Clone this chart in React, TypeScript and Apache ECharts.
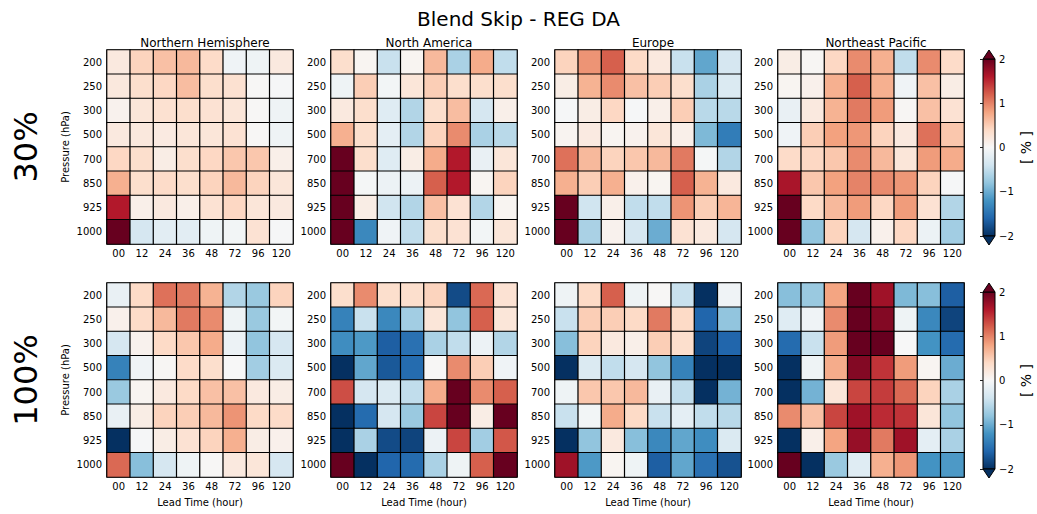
import React, { useEffect, useRef } from "react";
import * as echarts from "echarts";

const leadTimes = ["00", "12", "24", "36", "48", "72", "96", "120"];
const pressures = ["200", "250", "300", "500", "700", "850", "925", "1000"];
const regions = ["Northern Hemisphere", "North America", "Europe", "Northeast Pacific"];
const rowLabels = ["30%", "100%"];

// rows: pressure 200 -> 1000, columns: lead time 00 -> 120
const nh30 = [
  [0.2, 0.45, 0.6, 0.65, 0.38, -0.08, -0.1, 0.2],
  [0.22, 0.35, 0.42, 0.62, 0.35, 0.32, 0.02, -0.02],
  [0.08, 0.25, 0.32, 0.35, 0.3, 0.25, 0.02, -0.1],
  [0.2, 0.22, 0.18, 0.25, 0.25, 0.3, 0.02, -0.1],
  [0.42, 0.35, 0.15, 0.35, 0.42, 0.55, 0.55, 0.12],
  [0.72, 0.35, 0.38, 0.35, 0.45, 0.65, 0.45, 0.25],
  [1.6, 0.12, 0.2, 0.12, 0.3, 0.42, 0.25, 0.2],
  [2.0, -0.35, -0.22, -0.22, -0.1, -0.05, 0.3, -0.02],
];
const na30 = [
  [0.35, 0.05, -0.45, 0.05, 0.65, -0.65, 0.75, -0.5],
  [-0.1, 0.5, -0.05, 0.25, 0.5, 0.35, 0.35, 0.35],
  [0.2, 0.35, -0.25, -0.6, 0.35, 0.62, -0.35, 0.12],
  [0.72, 0.35, -0.2, -0.6, 0.45, 0.95, -0.65, -0.55],
  [2.0, 0.35, -0.25, 0.15, 0.75, 1.6, -0.15, 0.25],
  [2.0, -0.03, -0.12, -0.12, 1.2, 1.6, 0.05, 0.45],
  [2.0, 0.15, -0.4, -0.6, 0.6, 0.3, -0.6, 0.05],
  [2.0, -1.3, -0.08, -0.5, 0.35, 0.3, -0.05, 0.25],
];
const eu30 = [
  [0.45, 0.9, 1.2, 0.4, 0.2, -0.45, -1.05, -0.35],
  [0.15, 0.7, 0.95, 0.6, 0.5, 0.35, -0.65, -0.3],
  [-0.02, 0.15, 0.42, -0.02, 0.12, 0.5, -0.55, -0.55],
  [0.06, 0.18, 0.05, 0.08, 0.25, 0.12, -0.9, -1.4],
  [1.1, 0.65, 0.45, 0.55, 0.65, 1.05, -0.03, -0.6],
  [0.72, 0.5, 0.72, 0.1, 0.05, 1.2, 0.7, 0.2],
  [2.0, -0.4, 0.12, -0.5, -0.5, 0.9, 0.5, 0.68],
  [2.0, -0.65, 0.08, -0.35, -1.0, 0.3, 0.2, -0.35],
];
const nep30 = [
  [0.15, 0.03, 0.42, 0.95, 0.72, -0.5, 0.95, 0.38],
  [0.05, 0.1, 0.72, 1.2, 0.72, -0.08, 0.6, 0.15],
  [-0.15, 0.2, 0.7, 1.05, 0.85, 0.03, 0.6, 0.3],
  [-0.08, 0.5, 0.82, 0.88, 0.45, 0.2, 1.1, 0.55],
  [0.38, 0.42, 0.55, 0.95, 0.65, 0.25, 0.85, 0.75],
  [1.65, 0.55, 0.82, 1.0, 0.95, 0.88, 0.45, -0.02],
  [2.0, 0.4, 0.65, 0.85, 0.42, 0.85, 0.3, -0.6],
  [2.0, -0.8, 0.45, -0.35, 0.1, 0.42, -0.12, -0.7],
];
const nh100 = [
  [-0.15, 0.4, 1.1, 1.05, 0.7, -0.6, -0.75, 0.45],
  [0.1, 0.38, 0.65, 1.05, 0.95, -0.1, -0.75, -0.05],
  [-0.35, 0.08, 0.4, 0.55, 0.75, -0.12, -0.8, -0.35],
  [-1.35, -0.08, 0.03, 0.38, 0.35, 0.0, -0.7, -0.3],
  [-0.75, 0.05, 0.2, 0.4, 0.6, 0.6, 0.2, 0.15],
  [-0.15, 0.15, 0.45, 0.5, 0.65, 0.9, 0.4, 0.38],
  [-2.0, -0.02, 0.15, 0.3, 0.45, 0.72, 0.15, 0.1],
  [1.15, -0.85, -0.35, -0.1, 0.02, 0.2, 0.25, -0.35],
];
const na100 = [
  [0.35, 0.95, 0.35, 0.35, 0.45, -1.8, 1.15, 0.3],
  [-1.35, -0.45, -1.3, -0.7, 0.25, -0.8, 1.2, 0.25],
  [-1.25, -1.15, -1.65, -1.5, -0.65, -0.5, -0.12, -0.6],
  [-2.0, -1.05, -1.7, -1.55, 0.02, 0.95, 0.5, -0.08],
  [1.3, -0.35, -0.3, -0.5, 0.75, 2.0, 0.95, 1.2],
  [-2.0, -1.55, -0.35, -0.75, 1.35, 2.0, 0.15, 2.0],
  [-2.0, -0.65, -1.8, -1.85, -0.12, 1.35, -0.7, 1.25],
  [2.0, -2.0, -1.6, -1.55, -0.65, -0.1, 1.2, 2.0],
];
const eu100 = [
  [-0.1, 0.4, 1.2, -0.1, 0.02, -0.45, -2.0, -0.08],
  [-0.45, 0.5, 0.5, 0.4, 1.05, 0.4, -1.6, -0.8],
  [-0.85, 0.45, 0.2, 0.12, 0.5, 0.35, -1.85, -1.6],
  [-2.0, -0.3, -0.5, -0.35, -0.8, -1.35, -2.0, -2.0],
  [-0.1, 0.55, 0.55, 0.65, -0.15, -0.5, -2.0, -0.95],
  [-0.45, -0.05, 0.75, 0.4, -0.45, -0.2, -0.5, -0.55],
  [-2.0, -0.8, 0.2, -0.85, -1.3, -1.05, -1.25, -0.3],
  [1.7, -1.15, 0.05, -0.1, -1.65, -1.05, -1.5, -1.75],
];
const nep100 = [
  [-0.85, -0.75, 0.8, 2.0, 1.7, -0.9, -0.85, -1.65],
  [-0.25, -0.08, 0.95, 2.0, 1.85, -0.1, -1.3, -1.85],
  [-1.55, -0.45, 0.85, 2.0, 2.0, 0.0, -1.2, -1.55],
  [-2.0, -0.1, 0.75, 1.85, 1.45, 0.85, 0.05, -1.0],
  [-2.0, -0.95, 0.25, 1.35, 1.4, 1.15, 0.45, -0.65],
  [0.95, 0.6, 1.35, 1.7, 1.5, 1.45, 0.25, -0.8],
  [-2.0, 0.12, 0.8, 1.75, 1.05, 1.7, -0.2, -0.65],
  [2.0, -2.0, -0.75, -0.25, 0.72, 0.88, -1.2, -1.15],
];

const panels = [nh30, na30, eu30, nep30, nh100, na100, eu100, nep100];

const rdbu = [
  "#053061", "#2166ac", "#4393c3", "#92c5de", "#d1e5f0", "#f7f7f7",
  "#fddbc7", "#f4a582", "#d6604d", "#b2182b", "#67001f",
];

const FONT = "DejaVu Sans";

export default function App() {
  const ref = useRef<HTMLDivElement>(null);

  useEffect(() => {
    document.body.style.margin = "0";
    if (!ref.current) return;
    const chart = echarts.init(ref.current, null, { renderer: "svg" });

    const lefts = [107, 331, 555, 778];
    const tops = [50, 283];
    const W = 186;
    const H = 194;
    const cbX = 983;
    const cbW = 12;
    const cbInsetTop = 9;
    const cbH = 177;

    const grids: any[] = [];
    const xAxes: any[] = [];
    const yAxes: any[] = [];
    const series: any[] = [];
    const titles: any[] = [
      {
        text: "Blend Skip - REG DA",
        left: "center",
        top: 4,
        textStyle: { fontFamily: FONT, fontSize: 20, fontWeight: "normal", color: "#000" },
      },
    ];
    const graphics: any[] = [];

    const tickStyle = { show: true, inside: true, alignWithLabel: true, length: 4, lineStyle: { color: "#222", width: 1 } };

    panels.forEach((vals, i) => {
      const r = Math.floor(i / 4);
      const c = i % 4;
      grids.push({
        left: lefts[c], top: tops[r], width: W, height: H,
        show: true, borderColor: "#000", borderWidth: 1, backgroundColor: "transparent",
      });
      if (r === 0) {
        titles.push({
          text: regions[c],
          left: lefts[c] + W / 2,
          top: 32,
          textAlign: "center",
          textStyle: { fontFamily: FONT, fontSize: 12, fontWeight: "normal", color: "#000" },
        });
      }
    });

    // bottom x axes
    panels.forEach((_, i) => {
      const r = Math.floor(i / 4);
      xAxes.push({
        type: "category", gridIndex: i, data: leadTimes, position: "bottom",
        axisLine: { show: false }, splitLine: { show: false },
        axisTick: tickStyle,
        axisLabel: { fontFamily: FONT, fontSize: 10, color: "#000", margin: 4, interval: 0 },
        name: r === 1 ? "Lead Time (hour)" : "",
        nameLocation: "middle", nameGap: 20,
        nameTextStyle: { fontFamily: FONT, fontSize: 10, color: "#000" },
      });
    });
    // top x axes (ticks only)
    panels.forEach((_, i) => {
      xAxes.push({
        type: "category", gridIndex: i, data: leadTimes, position: "top",
        axisLine: { show: false }, splitLine: { show: false },
        axisTick: tickStyle, axisLabel: { show: false },
      });
    });
    // left y axes
    panels.forEach((_, i) => {
      const c = i % 4;
      yAxes.push({
        type: "category", gridIndex: i, data: pressures, inverse: true, position: "left",
        axisLine: { show: false }, splitLine: { show: false },
        axisTick: tickStyle,
        axisLabel: { fontFamily: FONT, fontSize: 10, color: "#000", margin: 5, interval: 0 },
        name: c === 0 ? "Pressure (hPa)" : "",
        nameLocation: "middle", nameGap: 37, nameRotate: 90,
        nameTextStyle: { fontFamily: FONT, fontSize: 10, color: "#000" },
      });
    });
    // right y axes (ticks only)
    panels.forEach((_, i) => {
      yAxes.push({
        type: "category", gridIndex: i, data: pressures, inverse: true, position: "right",
        axisLine: { show: false }, splitLine: { show: false },
        axisTick: tickStyle, axisLabel: { show: false },
      });
    });

    panels.forEach((vals, i) => {
      const data: any[] = [];
      vals.forEach((row, yi) => row.forEach((v, xi) => data.push([xi, yi, v])));
      series.push({
        type: "heatmap", xAxisIndex: i, yAxisIndex: i, data,
        itemStyle: { borderColor: "#000", borderWidth: 1.2 },
        emphasis: { disabled: true },
        progressive: 0,
      });
    });

    // colorbars
    tops.forEach((t, r) => {
      const gi = grids.length;
      const y0 = t + cbInsetTop;
      grids.push({ left: cbX, top: y0, width: cbW, height: cbH, show: false });
      xAxes.push({ type: "value", gridIndex: gi, show: false, min: 0, max: 1 });
      yAxes.push({
        type: "value", gridIndex: gi, min: -2, max: 2, interval: 1, position: "right", z: 10,
        axisLine: { show: false }, splitLine: { show: false },
        axisTick: { show: true, inside: true, length: 3, lineStyle: { color: "#222" } },
        axisLabel: {
          fontFamily: FONT, fontSize: 10, color: "#000", margin: 4,
          formatter: (v: number) => (v < 0 ? "\u2212" + Math.abs(v) : String(v)),
        },
        name: "[ % ]", nameLocation: "middle", nameRotate: 90, nameGap: 24,
        nameTextStyle: { fontFamily: FONT, fontSize: 14, color: "#000" },
      });
      graphics.push({
        type: "rect", z: 1,
        shape: { x: cbX, y: y0, width: cbW, height: cbH },
        style: {
          fill: {
            type: "linear", x: 0, y: 0, x2: 0, y2: 1,
            colorStops: rdbu.slice().reverse().map((col, k) => ({ offset: k / (rdbu.length - 1), color: col })),
          },
          stroke: "#000", lineWidth: 1,
        },
      });
      graphics.push({
        type: "polygon", z: 1,
        shape: { points: [[cbX, y0], [cbX + cbW, y0], [cbX + cbW / 2, y0 - 9]] },
        style: { fill: rdbu[rdbu.length - 1], stroke: "#000", lineWidth: 1 },
      });
      graphics.push({
        type: "polygon", z: 1,
        shape: { points: [[cbX, y0 + cbH], [cbX + cbW, y0 + cbH], [cbX + cbW / 2, y0 + cbH + 9]] },
        style: { fill: rdbu[0], stroke: "#000", lineWidth: 1 },
      });
      graphics.push({
        type: "text", z: 1,
        x: 26, y: t + H / 2, rotation: Math.PI / 2,
        style: {
          text: rowLabels[r], fontFamily: FONT, fontSize: 32, fill: "#000",
          align: "center", verticalAlign: "middle",
        },
      });
    });

    chart.setOption({
      animation: false,
      backgroundColor: "#fff",
      title: titles,
      grid: grids,
      xAxis: xAxes,
      yAxis: yAxes,
      visualMap: {
        type: "continuous",
        show: false,
        min: -2,
        max: 2,
        seriesIndex: panels.map((_, i) => i),
        inRange: { color: rdbu },
      },
      series,
      graphic: graphics,
    });

    return () => chart.dispose();
  }, []);

  return <div ref={ref} style={{ width: 1037, height: 514 }} />;
}
